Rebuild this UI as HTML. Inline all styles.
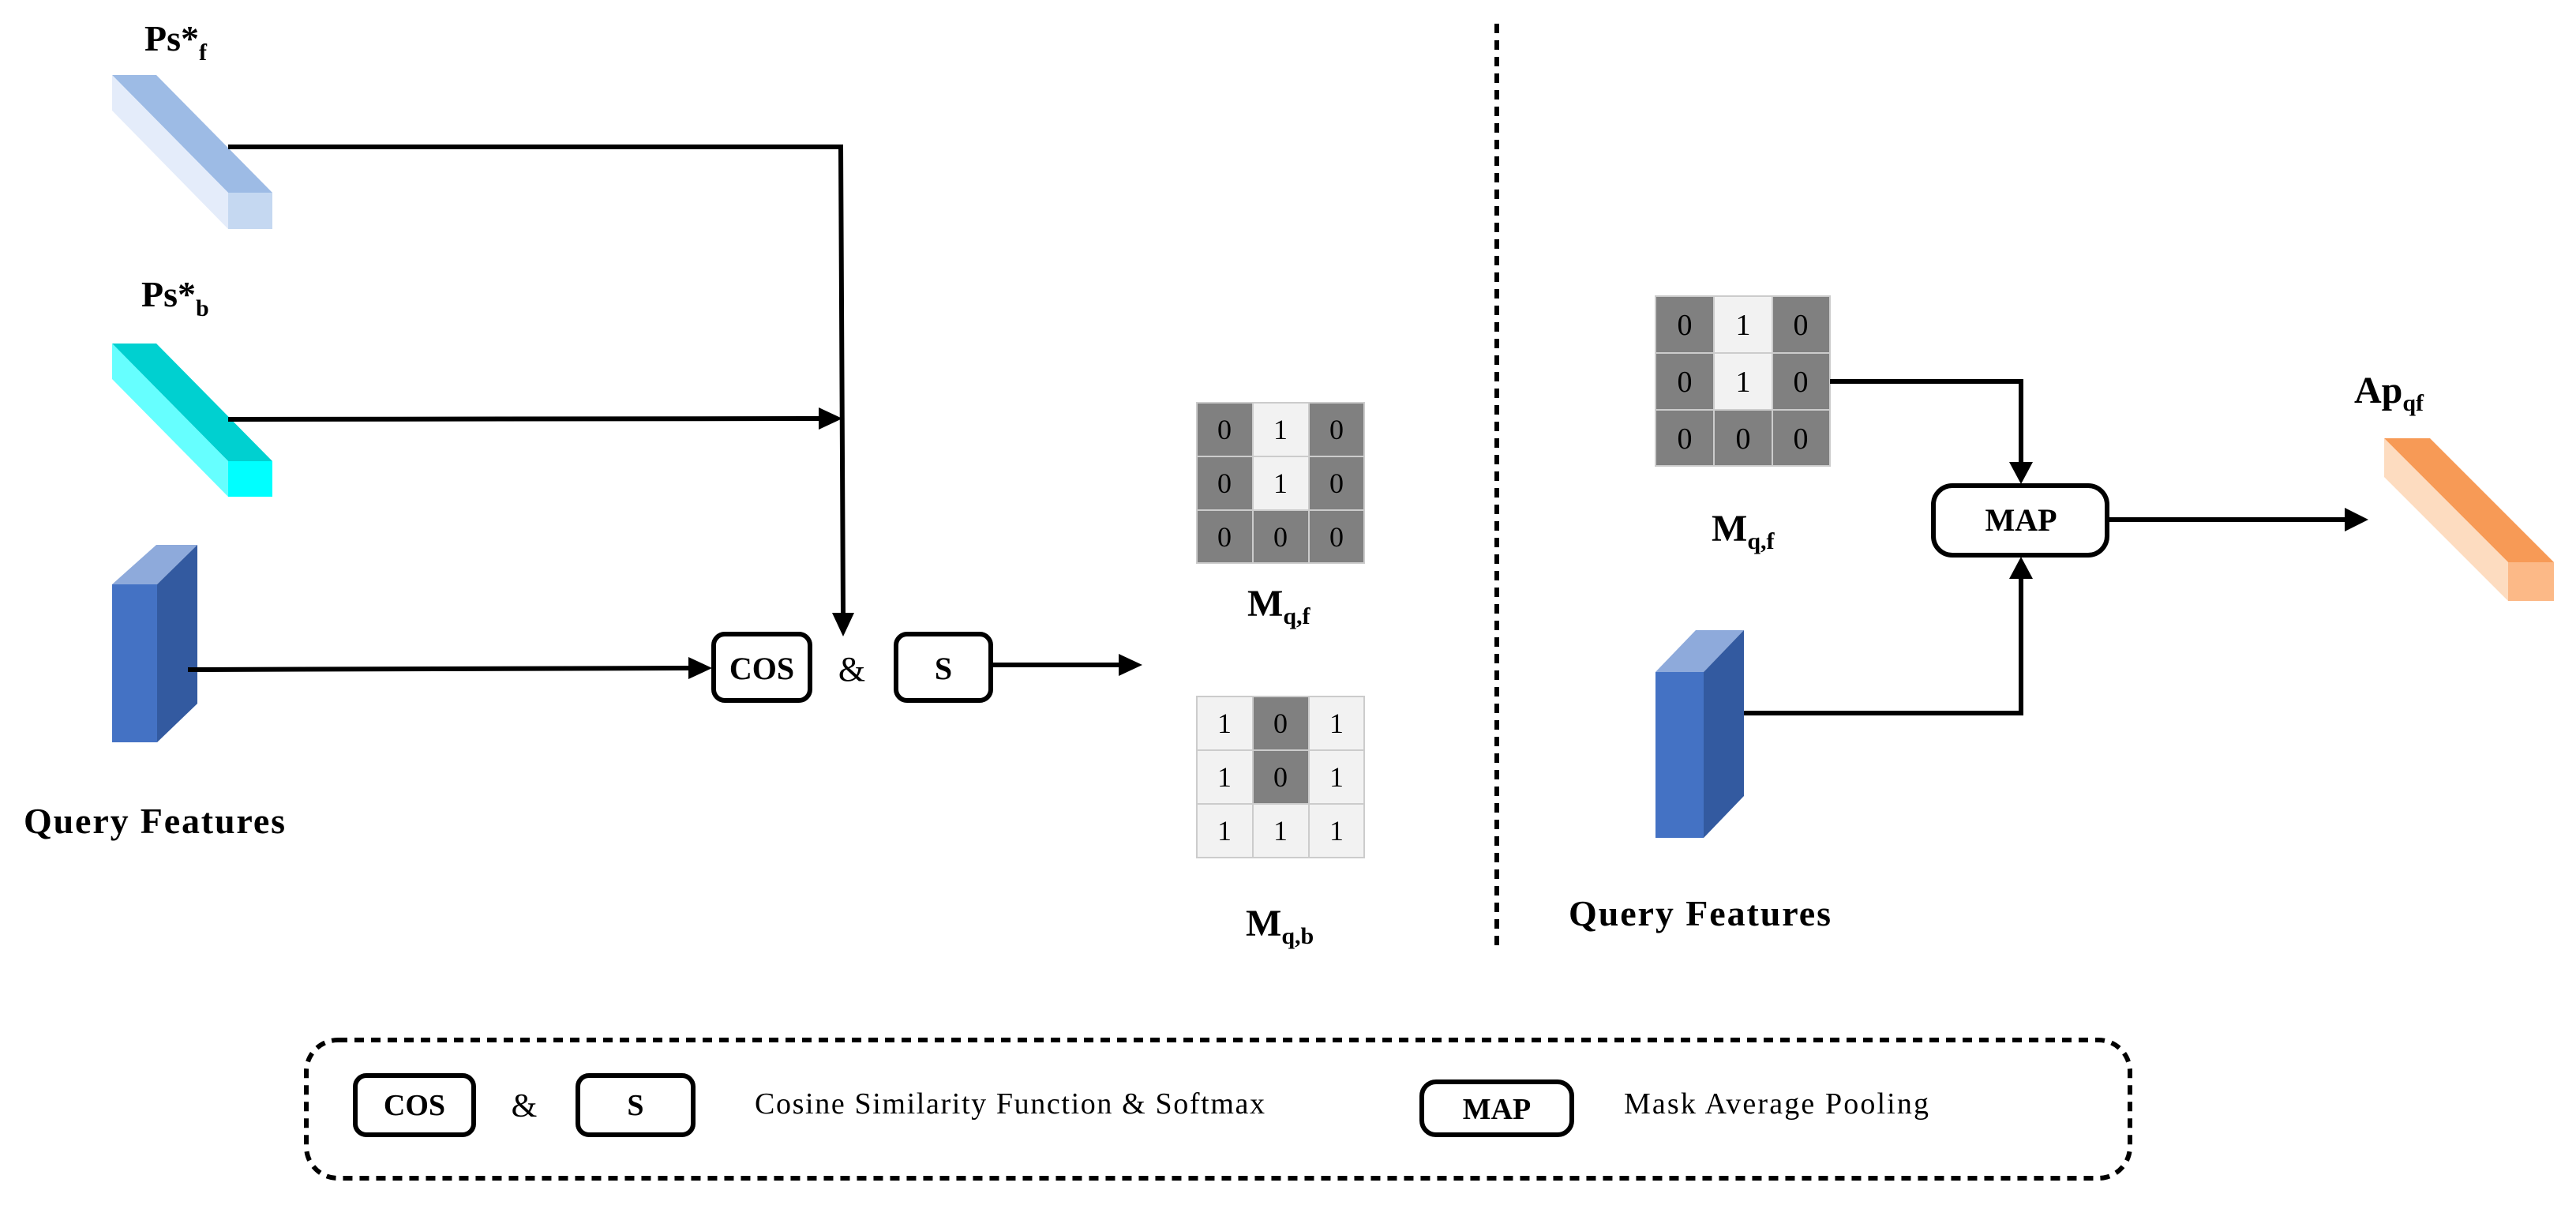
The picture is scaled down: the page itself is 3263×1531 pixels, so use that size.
<!DOCTYPE html>
<html><head><meta charset="utf-8"><style>html,body{margin:0;padding:0;background:#fff}svg{display:block}</style></head>
<body>
<svg width="3263" height="1531" viewBox="0 0 3263 1531" xmlns="http://www.w3.org/2000/svg" font-family="'Liberation Serif', serif">
<!-- Ps*f bar -->
<polygon points="142,95 198,95 345,244 289,244" fill="#9dbbe5"/>
<polygon points="142,95 142,140 289,290 289,244" fill="#e4ecfa"/>
<rect x="289" y="244" width="56" height="46" fill="#c5d8f1"/>
<text x="183" y="64" font-size="46" font-weight="bold">Ps*<tspan font-size="30" dy="12">f</tspan></text>
<!-- Ps*b bar -->
<polygon points="142,435 198,435 345,584 289,584" fill="#00d0d0"/>
<polygon points="142,435 142,480 289,629 289,584" fill="#66ffff"/>
<rect x="289" y="584" width="56" height="45" fill="#00ffff"/>
<text x="179" y="388" font-size="46" font-weight="bold">Ps*<tspan font-size="30" dy="12">b</tspan></text>
<!-- Query block left -->
<polygon points="142,740 198,690 250,690 199,740" fill="#8eaadb"/>
<polygon points="199,740 250,690 250,891 199,940" fill="#335aa0"/>
<rect x="142" y="740" width="57" height="200" fill="#4472c4"/>
<text x="30" y="1055" font-size="46" font-weight="bold" textLength="331">Query Features</text>
<!-- connectors left -->
<g stroke="#000" stroke-width="6" fill="none">
<polyline points="289,186 1065,186 1068,778"/>
<line x1="289" y1="531" x2="1037" y2="530"/>
<line x1="238" y1="848" x2="874" y2="846"/>
<line x1="1257" y1="842" x2="1420" y2="842"/>
</g>
<polygon points="1037,516 1067,530 1037,544" fill="#000"/>
<polygon points="1054,776 1082,776 1068,806" fill="#000"/>
<polygon points="872,832 902,846 872,860" fill="#000"/>
<polygon points="1417,828 1447,842 1417,856" fill="#000"/>
<rect x="904" y="803" width="122" height="84" rx="14" fill="#fff" stroke="#000" stroke-width="6"/>
<text x="965" y="860" font-size="40" font-weight="bold" text-anchor="middle">COS</text>
<text x="1079" y="862" font-size="44" text-anchor="middle">&amp;</text>
<rect x="1135" y="803" width="120" height="84" rx="14" fill="#fff" stroke="#000" stroke-width="6"/>
<text x="1195" y="860" font-size="40" font-weight="bold" text-anchor="middle">S</text>
<!-- grid Mqf -->
<g stroke="#cccccc" stroke-width="2">
<rect x="1516" y="510" width="71" height="68" fill="#808080"/>
<rect x="1587" y="510" width="71" height="68" fill="#f2f2f2"/>
<rect x="1658" y="510" width="70" height="68" fill="#808080"/>
<rect x="1516" y="578" width="71" height="68" fill="#808080"/>
<rect x="1587" y="578" width="71" height="68" fill="#f2f2f2"/>
<rect x="1658" y="578" width="70" height="68" fill="#808080"/>
<rect x="1516" y="646" width="71" height="67" fill="#808080"/>
<rect x="1587" y="646" width="71" height="67" fill="#808080"/>
<rect x="1658" y="646" width="70" height="67" fill="#808080"/>
</g>
<g font-size="36" text-anchor="middle">
<text x="1551" y="556">0</text><text x="1622" y="556">1</text><text x="1693" y="556">0</text>
<text x="1551" y="624">0</text><text x="1622" y="624">1</text><text x="1693" y="624">0</text>
<text x="1551" y="692">0</text><text x="1622" y="692">0</text><text x="1693" y="692">0</text>
</g>
<text x="1580" y="780" font-size="48" font-weight="bold">M<tspan font-size="30" dy="10">q,f</tspan></text>
<!-- grid Mqb -->
<g stroke="#cccccc" stroke-width="2">
<rect x="1516" y="882" width="71" height="68" fill="#f2f2f2"/>
<rect x="1587" y="882" width="71" height="68" fill="#808080"/>
<rect x="1658" y="882" width="70" height="68" fill="#f2f2f2"/>
<rect x="1516" y="950" width="71" height="68" fill="#f2f2f2"/>
<rect x="1587" y="950" width="71" height="68" fill="#808080"/>
<rect x="1658" y="950" width="70" height="68" fill="#f2f2f2"/>
<rect x="1516" y="1018" width="71" height="68" fill="#f2f2f2"/>
<rect x="1587" y="1018" width="71" height="68" fill="#f2f2f2"/>
<rect x="1658" y="1018" width="70" height="68" fill="#f2f2f2"/>
</g>
<g font-size="36" text-anchor="middle">
<text x="1551" y="928">1</text><text x="1622" y="928">0</text><text x="1693" y="928">1</text>
<text x="1551" y="996">1</text><text x="1622" y="996">0</text><text x="1693" y="996">1</text>
<text x="1551" y="1064">1</text><text x="1622" y="1064">1</text><text x="1693" y="1064">1</text>
</g>
<text x="1578" y="1185" font-size="48" font-weight="bold">M<tspan font-size="30" dy="10">q,b</tspan></text>
<!-- divider -->
<line x1="1896" y1="30" x2="1896" y2="1205" stroke="#000" stroke-width="6" stroke-dasharray="12,9"/>
<!-- right grid -->
<g stroke="#cccccc" stroke-width="2">
<rect x="2097" y="375" width="74" height="72" fill="#808080"/>
<rect x="2171" y="375" width="74" height="72" fill="#f2f2f2"/>
<rect x="2245" y="375" width="73" height="72" fill="#808080"/>
<rect x="2097" y="447" width="74" height="72" fill="#808080"/>
<rect x="2171" y="447" width="74" height="72" fill="#f2f2f2"/>
<rect x="2245" y="447" width="73" height="72" fill="#808080"/>
<rect x="2097" y="519" width="74" height="71" fill="#808080"/>
<rect x="2171" y="519" width="74" height="71" fill="#808080"/>
<rect x="2245" y="519" width="73" height="71" fill="#808080"/>
</g>
<g font-size="38" text-anchor="middle">
<text x="2134" y="424">0</text><text x="2208" y="424">1</text><text x="2281" y="424">0</text>
<text x="2134" y="496">0</text><text x="2208" y="496">1</text><text x="2281" y="496">0</text>
<text x="2134" y="568">0</text><text x="2208" y="568">0</text><text x="2281" y="568">0</text>
</g>
<text x="2168" y="685" font-size="48" font-weight="bold">M<tspan font-size="30" dy="10">q,f</tspan></text>
<!-- right query block -->
<polygon points="2097,851 2148,798 2209,798 2158,851" fill="#8eaadb"/>
<polygon points="2158,851 2209,798 2209,1008 2158,1061" fill="#335aa0"/>
<rect x="2097" y="851" width="61" height="210" fill="#4472c4"/>
<text x="1987" y="1172" font-size="46" font-weight="bold" textLength="332">Query Features</text>
<!-- right connectors -->
<g stroke="#000" stroke-width="6" fill="none">
<polyline points="2318,483 2560,483 2560,590"/>
<polyline points="2209,903 2560,903 2560,728"/>
<line x1="2670" y1="658" x2="2975" y2="658"/>
</g>
<polygon points="2545,585 2575,585 2560,613" fill="#000"/>
<polygon points="2545,733 2575,733 2560,705" fill="#000"/>
<polygon points="2970,643 3000,658 2970,673" fill="#000"/>
<rect x="2449" y="615" width="220" height="88" rx="24" fill="#fff" stroke="#000" stroke-width="6"/>
<text x="2560" y="672" font-size="40" font-weight="bold" text-anchor="middle">MAP</text>
<!-- orange bar -->
<polygon points="3020,555 3078,555 3235,712 3177,712" fill="#f79a56"/>
<polygon points="3020,555 3020,604 3177,761 3177,712" fill="#fddcc0"/>
<rect x="3177" y="712" width="58" height="49" fill="#fcb987"/>
<text x="2982" y="510" font-size="48" font-weight="bold">Ap<tspan font-size="30" dy="10">qf</tspan></text>
<!-- legend -->
<rect x="388" y="1317" width="2310" height="175" rx="40" fill="none" stroke="#000" stroke-width="6" stroke-dasharray="12,9"/>
<rect x="450" y="1362" width="150" height="75" rx="14" fill="#fff" stroke="#000" stroke-width="6"/>
<text x="525" y="1412" font-size="38" font-weight="bold" text-anchor="middle">COS</text>
<text x="664" y="1414" font-size="42" text-anchor="middle">&amp;</text>
<rect x="732" y="1362" width="146" height="75" rx="14" fill="#fff" stroke="#000" stroke-width="6"/>
<text x="805" y="1412" font-size="38" font-weight="bold" text-anchor="middle">S</text>
<text x="956" y="1410" font-size="38" textLength="646">Cosine Similarity Function &amp; Softmax</text>
<rect x="1801" y="1370" width="190" height="67" rx="18" fill="#fff" stroke="#000" stroke-width="6"/>
<text x="1896" y="1417" font-size="38" font-weight="bold" text-anchor="middle">MAP</text>
<text x="2057" y="1410" font-size="38" textLength="386">Mask Average Pooling</text>
</svg>
</body></html>
